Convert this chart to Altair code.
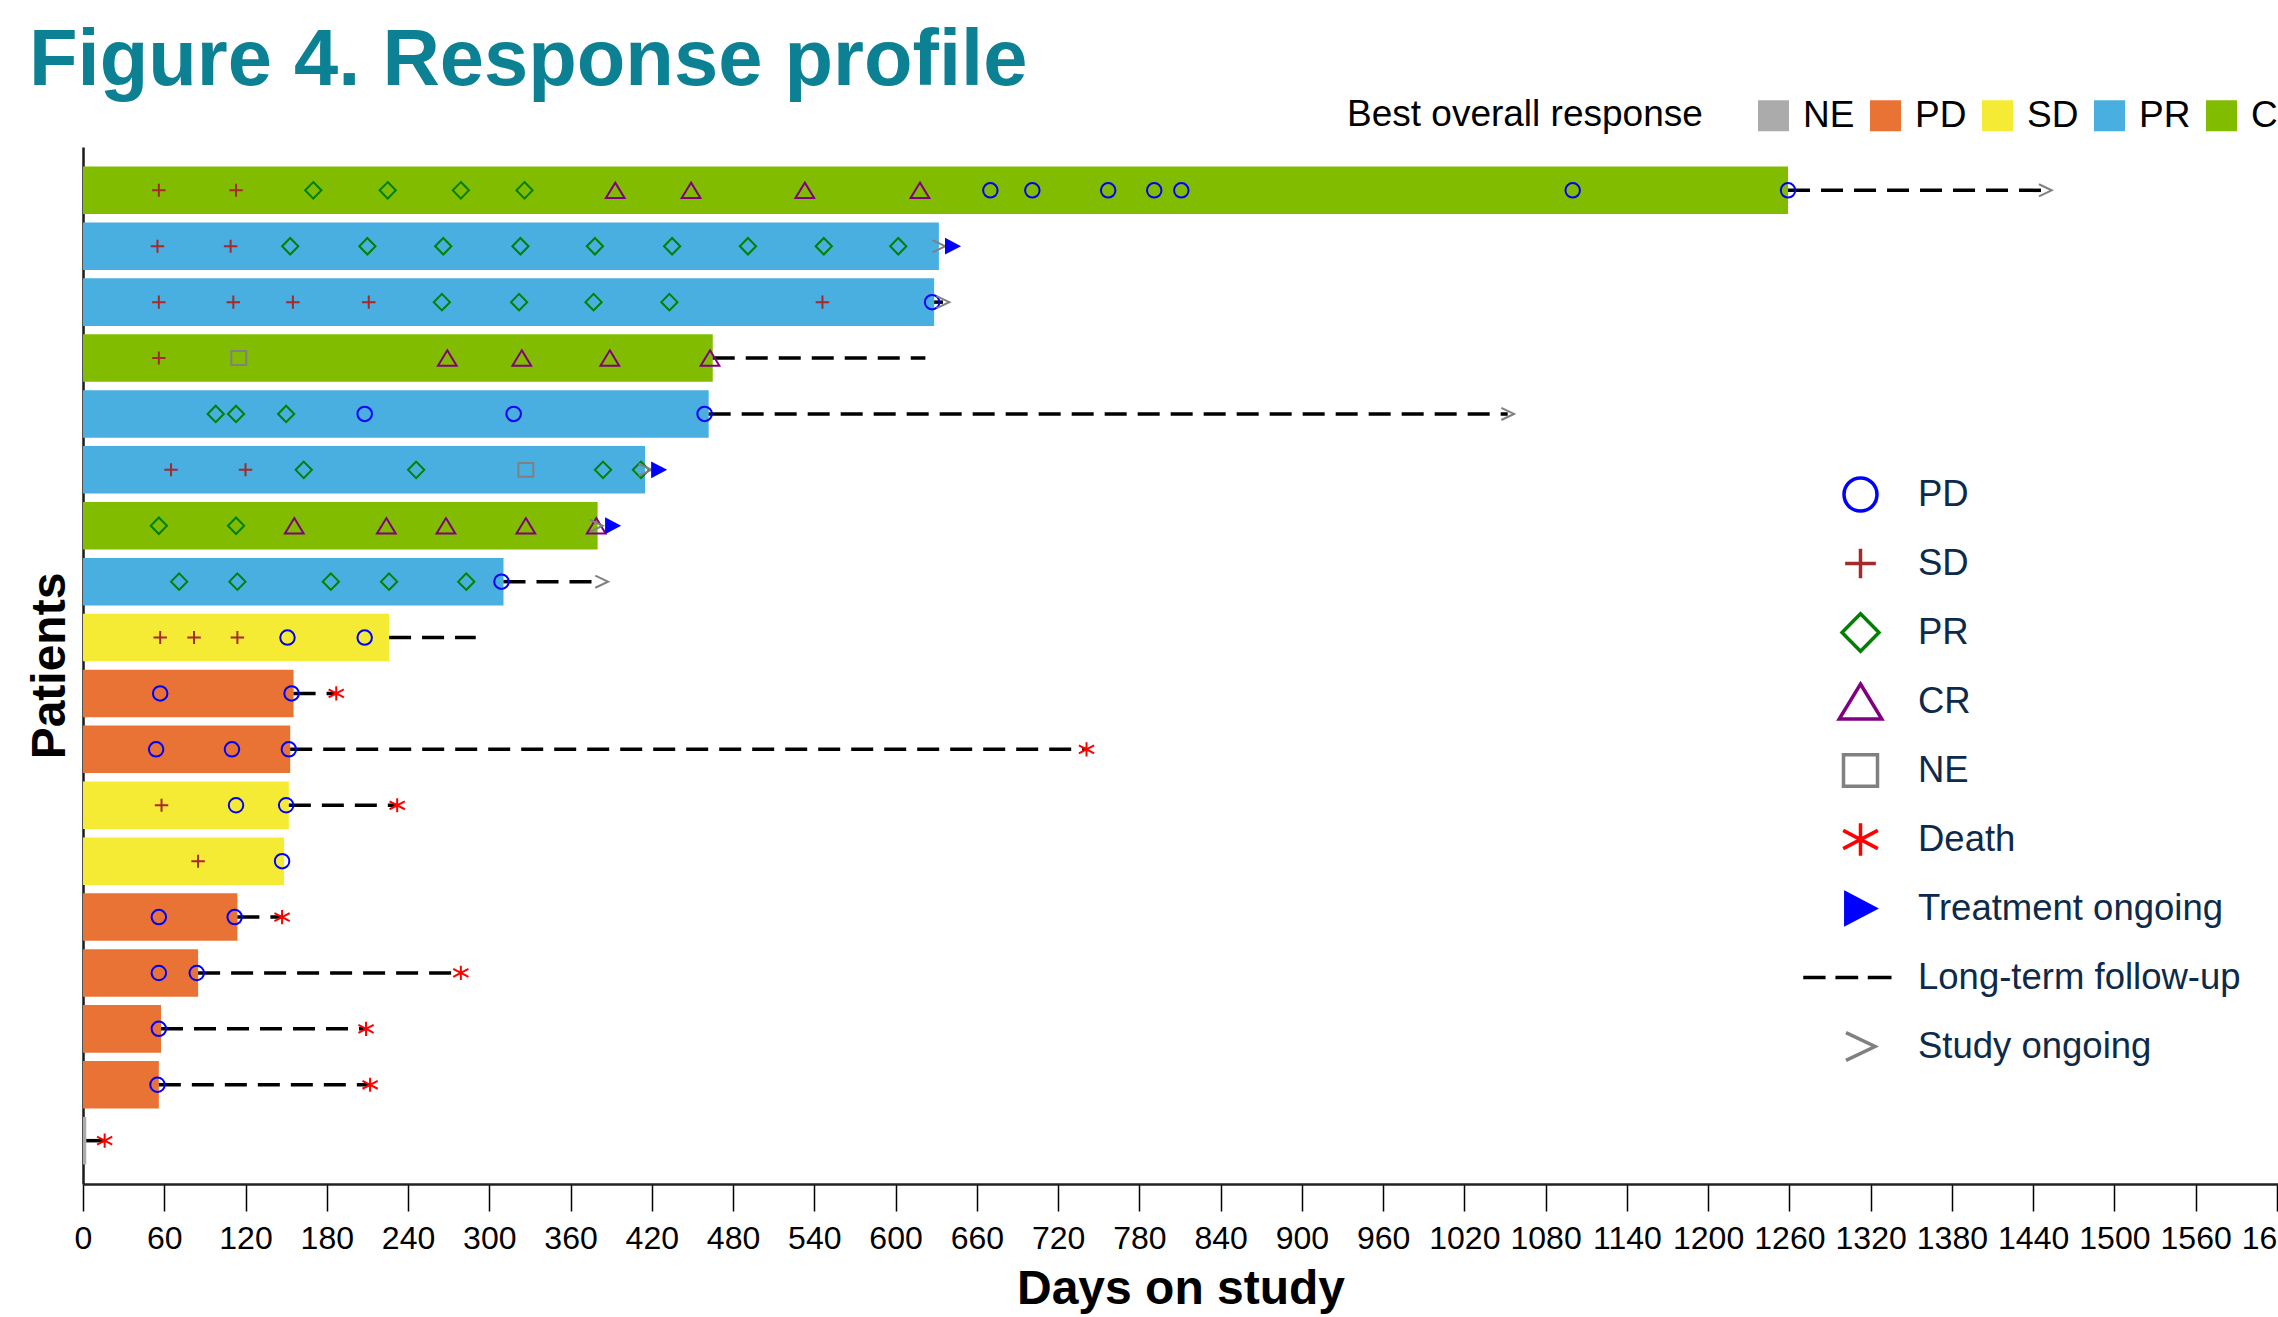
import altair as alt
import pandas as pd

# ---------------- data ----------------
patients = ["P01", "P02", "P03", "P04", "P05", "P06", "P07", "P08", "P09",
            "P10", "P11", "P12", "P13", "P14", "P15", "P16", "P17", "P18"]
best_response = ["CR", "PR", "PR", "CR", "PR", "PR", "CR", "PR", "SD",
                 "PD", "PD", "SD", "SD", "PD", "PD", "PD", "PD", "NE"]
days_on_study = [1259, 632, 628.5, 465, 462, 415, 380, 310.5, 226,
                 155.5, 153, 152, 148.5, 114, 85, 57.6, 56, 2.4]

# tumour assessments (response, day) per patient
visits_p01 = [("SD", 56), ("SD", 113), ("PR", 170), ("PR", 225), ("PR", 279), ("PR", 326),
              ("CR", 393), ("CR", 449), ("CR", 533), ("CR", 618), ("PD", 670), ("PD", 701),
              ("PD", 757), ("PD", 791), ("PD", 811), ("PD", 1100), ("PD", 1259)]
visits_p02 = [("SD", 55), ("SD", 109), ("PR", 153), ("PR", 210), ("PR", 266), ("PR", 323),
              ("PR", 378), ("PR", 435), ("PR", 491), ("PR", 547), ("PR", 602)]
visits_p03 = [("SD", 56), ("SD", 111), ("SD", 155), ("SD", 211), ("PR", 265), ("PR", 322),
              ("PR", 377), ("PR", 433), ("SD", 546), ("PD", 627)]
visits_p04 = [("SD", 56), ("NE", 115), ("CR", 269), ("CR", 324), ("CR", 389), ("CR", 463)]
visits_p05 = [("PR", 98), ("PR", 113), ("PR", 150), ("PD", 208), ("PD", 318), ("PD", 459)]
visits_p06 = [("SD", 65), ("SD", 120), ("PR", 163), ("PR", 246), ("NE", 327), ("PR", 384), ("PR", 412)]
visits_p07 = [("PR", 56), ("PR", 113), ("CR", 156), ("CR", 224), ("CR", 268), ("CR", 327), ("CR", 379)]
visits_p08 = [("PR", 71), ("PR", 114), ("PR", 183), ("PR", 226), ("PR", 283), ("PD", 309)]
visits_p09 = [("SD", 57), ("SD", 82), ("SD", 114), ("PD", 151), ("PD", 208)]
visits_p10 = [("PD", 57), ("PD", 154)]
visits_p11 = [("PD", 54), ("PD", 110), ("PD", 152)]
visits_p12 = [("SD", 58), ("PD", 113), ("PD", 150)]
visits_p13 = [("SD", 85), ("PD", 147)]
visits_p14 = [("PD", 56), ("PD", 112)]
visits_p15 = [("PD", 56), ("PD", 84)]
visits_p16 = [("PD", 56)]
visits_p17 = [("PD", 55)]
visits_p18 = []

followup_end = [1449, None, 635, 622, 1052, None, None, 383, 290,
                187, 741, 232, None, 147, 279, 209, 212, 16]
death_day = [None, None, None, None, None, None, None, None, None,
             187, 741, 232, None, 147, 279, 209, 212, 16]
treatment_ongoing_day = [None, 642, None, None, None, 425, 391, None, None,
                         None, None, None, None, None, None, None, None, None]
study_ongoing_day = [1449, 632, 635, None, 1052, 415, 379, 383, None,
                     None, None, None, None, None, None, None, None, None]

x_ticks = [0, 60, 120, 180, 240, 300, 360, 420, 480, 540, 600, 660, 720, 780, 840,
           900, 960, 1020, 1080, 1140, 1200, 1260, 1320, 1380, 1440, 1500, 1560, 1620]

bor_domain = ["NE", "PD", "SD", "PR", "CR"]
bor_colors = ["#ABABAB", "#E97334", "#F5EB35", "#48AFE0", "#82BC00"]

event_domain = ["PD", "SD", "PR", "CR", "NE", "Death", "Treatment ongoing",
                "Long-term follow-up", "Study ongoing"]
# unit-size symbol paths; the trailing move-tos give every symbol the same height box
_EXT = "M0,-1.25M0,1.25"
event_shapes = [
    "M-1,0A1,1 0 1,0 1,0A1,1 0 1,0 -1,0Z" + _EXT,
    "M-0.93,0H0.93M0,-0.9V0.9" + _EXT,
    "M0,-1.14L1.12,0L0,1.14L-1.12,0Z" + _EXT,
    "M0,-1.06L1.29,1.06L-1.29,1.06Z" + _EXT,
    "M-1.03,-0.96H1.03V0.96H-1.03Z" + _EXT,
    "M0,-0.98V0.98M-1.05,-0.55L1.05,0.55M-1.05,0.55L1.05,-0.55" + _EXT,
    "M-0.89,-0.93L0.89,0L-0.89,0.93Z" + _EXT,
    "M-3.47,0H-2.12M-1.52,0H-0.14M0.44,0H1.88" + _EXT,
    "M-0.88,-0.84L0.88,0L-0.88,0.84" + _EXT,
]
event_strokes = ["#0000FF", "#A52A2A", "#008000", "#800080", "#808080", "#FF0000",
                 "#0000FF", "#000000", "#808080"]
event_fills = ["transparent", "transparent", "transparent", "transparent", "transparent",
               "transparent", "#0000FF", "transparent", "transparent"]

# ---------------- tables ----------------
visits_all = [visits_p01, visits_p02, visits_p03, visits_p04, visits_p05, visits_p06,
              visits_p07, visits_p08, visits_p09, visits_p10, visits_p11, visits_p12,
              visits_p13, visits_p14, visits_p15, visits_p16, visits_p17, visits_p18]

bars_df = pd.DataFrame({"Patient": patients, "BOR": best_response, "Days": days_on_study})

rows = []
for p, vis in zip(patients, visits_all):
    for resp, d in vis:
        rows.append({"Patient": p, "Day": d, "Event": resp})
for p, d in zip(patients, death_day):
    if d is not None:
        rows.append({"Patient": p, "Day": d, "Event": "Death"})
for p, d in zip(patients, study_ongoing_day):
    if d is not None:
        rows.append({"Patient": p, "Day": d, "Event": "Study ongoing"})
for p, d in zip(patients, treatment_ongoing_day):
    if d is not None:
        rows.append({"Patient": p, "Day": d, "Event": "Treatment ongoing"})
pts_df = pd.DataFrame(rows)

lt_rows = []
for p, s, e in zip(patients, days_on_study, followup_end):
    if e is not None:
        lt_rows.append({"Patient": p, "Start": s, "End": e})
ltfu_df = pd.DataFrame(lt_rows)

# ---------------- chart ----------------
FONT = "Liberation Sans"
x_scale = alt.Scale(domain=[0, 1620.8], nice=False, zero=True)
y_sort = patients
y_scale = alt.Scale(paddingInner=0.15, paddingOuter=0.35)

y_axis = alt.Axis(title="Patients", labels=False, ticks=False, grid=False,
                  domainColor="#1a1a1a", domainWidth=2.5,
                  titleFontSize=48, titleFontWeight="bold", titleColor="black",
                  titleFont=FONT, titlePadding=9)
x_axis = alt.Axis(values=x_ticks, title="Days on study", grid=False, format="d",
                  domainColor="#222222", domainWidth=2.5,
                  tickColor="black", tickWidth=1.5, tickSize=27,
                  labelFontSize=32, labelColor="black", labelFont=FONT,
                  labelPadding=12, labelFlush=False, labelOverlap=False,
                  titleFontSize=48, titleFontWeight="bold", titleColor="black",
                  titleFont=FONT, titlePadding=11)

bars = alt.Chart(bars_df).mark_bar().encode(
    x=alt.X("Days:Q", scale=x_scale, axis=x_axis),
    y=alt.Y("Patient:N", sort=y_sort, scale=y_scale, axis=y_axis),
    color=alt.Color("BOR:N", scale=alt.Scale(domain=bor_domain, range=bor_colors),
                    legend=alt.Legend(title="Best overall response", orient="none",
                                      legendX=1264, legendY=-50, direction="horizontal",
                                      titleOrient="left", titleFontSize=37,
                                      titleFontWeight="normal", titleColor="black",
                                      titleFont=FONT, titlePadding=52, titleLimit=800,
                                      labelFontSize=37, labelColor="black", labelFont=FONT,
                                      labelOffset=11, columnPadding=12, labelLimit=400,
                                      symbolType="square", symbolSize=961,
                                      symbolStrokeWidth=0, padding=0)),
)

rules = alt.Chart(ltfu_df).mark_rule(color="black", strokeWidth=3.5, strokeDash=[22, 11]).encode(
    x=alt.X("Start:Q", scale=x_scale),
    x2="End:Q",
    y=alt.Y("Patient:N", sort=y_sort),
)

def ev_legend():
    return alt.Legend(title=None, orient="none", legendX=1759, legendY=329,
                      direction="vertical", symbolSize=1089, symbolStrokeWidth=3.5,
                      symbolOpacity=1, labelFontSize=36.5, labelColor="#0D2A4A",
                      labelFont=FONT, labelOffset=39, labelLimit=800,
                      rowPadding=12, padding=0)

points = alt.Chart(pts_df).mark_point(size=210, strokeWidth=2, opacity=1).encode(
    x=alt.X("Day:Q", scale=x_scale),
    y=alt.Y("Patient:N", sort=y_sort),
    shape=alt.Shape("Event:N", scale=alt.Scale(domain=event_domain, range=event_shapes),
                    legend=ev_legend()),
    stroke=alt.Stroke("Event:N", scale=alt.Scale(domain=event_domain, range=event_strokes),
                      legend=ev_legend()),
    fill=alt.Fill("Event:N", scale=alt.Scale(domain=event_domain, range=event_fills),
                  legend=ev_legend()),
)

chart = alt.layer(bars, rules, points).properties(
    width=2195,
    height=1037,
    title=alt.TitleParams(text="Figure 4. Response profile", anchor="start", frame="group",
                          fontSize=79.5, fontWeight="bold", color="#0B8193", font=FONT,
                          dx=-54, dy=14, offset=10),
    autosize=alt.AutoSizeParams(type="none"),
    padding={"left": 83, "top": 147, "right": 0, "bottom": 130},
).configure(font=FONT).configure_view(stroke=None)

chart.save("out.html", embed_options={"renderer": "svg", "actions": False})
